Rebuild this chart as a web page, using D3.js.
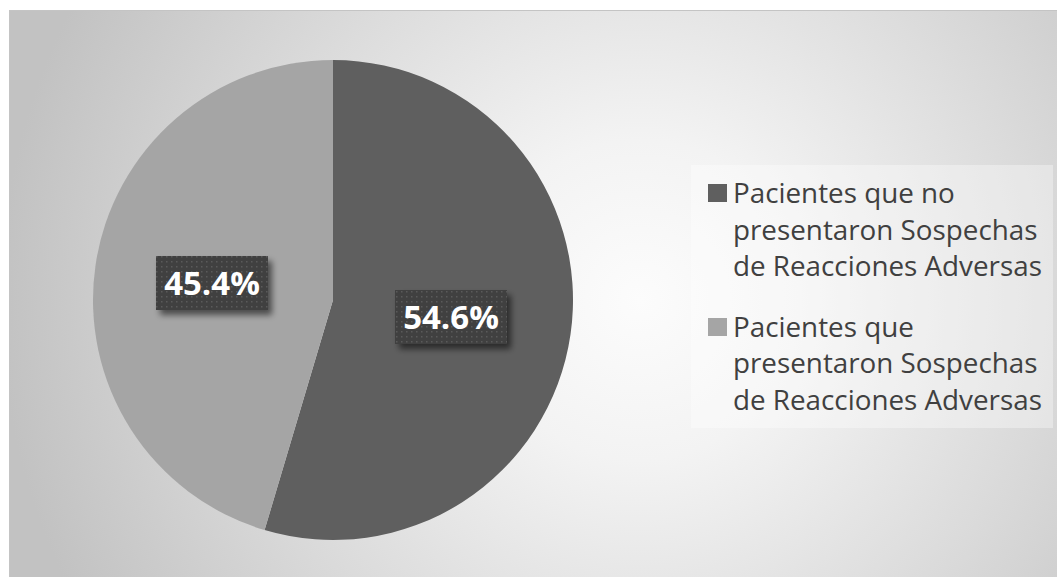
<!DOCTYPE html>
<html><head><meta charset="utf-8">
<script src="https://cdn.jsdelivr.net/npm/d3@7"></script>
<style>html,body{margin:0;padding:0;background:#fff;}</style>
</head><body>
<svg id="c" width="1057" height="577"></svg>
<script>
const categories = ["Pacientes que no presentaron Sospechas de Reacciones Adversas",
                    "Pacientes que presentaron Sospechas de Reacciones Adversas"];
const legendLines = [["Pacientes que no","presentaron Sospechas","de Reacciones Adversas"],
                     ["Pacientes que","presentaron Sospechas","de Reacciones Adversas"]];
const values = [54.6, 45.4];
const labels = ["54.6%", "45.4%"];
const colors = ["#5f5f5f", "#a5a5a5"];

const svg = d3.select("#c");
const defs = svg.append("defs");
const rg = defs.append("radialGradient").attr("id","bg").attr("gradientUnits","userSpaceOnUse")
  .attr("cx",640).attr("cy",300).attr("r",640);
rg.append("stop").attr("offset","0").attr("stop-color","#fcfcfc");
rg.append("stop").attr("offset","0.25").attr("stop-color","#f3f3f3");
rg.append("stop").attr("offset","1").attr("stop-color","#c2c2c2");
const pat = defs.append("pattern").attr("id","dots").attr("patternUnits","userSpaceOnUse")
  .attr("width",5).attr("height",5);
pat.append("rect").attr("width",5).attr("height",5).attr("fill","#404040");
pat.append("rect").attr("x",1).attr("y",1).attr("width",1.5).attr("height",1.5).attr("fill","#5a5a5a");
const f = defs.append("filter").attr("id","sh").attr("x","-20%").attr("y","-20%").attr("width","150%").attr("height","160%");
f.append("feGaussianBlur").attr("in","SourceAlpha").attr("stdDeviation",3);
f.append("feOffset").attr("dx",4).attr("dy",5).attr("result","b");
f.append("feComponentTransfer").append("feFuncA").attr("type","linear").attr("slope",0.55);
const m = f.append("feMerge"); m.append("feMergeNode"); m.append("feMergeNode").attr("in","SourceGraphic");

svg.append("rect").attr("x",9.5).attr("y",10.5).attr("width",1050).attr("height",568)
  .attr("fill","url(#bg)").attr("stroke","#c4c4c4");

const cx = 333, cy = 300, R = 240;
const pie = d3.pie().sort(null).value(d=>d)(values);
const arc = d3.arc().innerRadius(0).outerRadius(R);
const g = svg.append("g").attr("transform",`translate(${cx},${cy})`);
g.selectAll("path").data(pie).join("path").attr("d",arc).attr("fill",(d,i)=>colors[i]);

const labelPos = [[451,317],[212,283]];
labels.forEach((t,i)=>{
  const [x,y] = labelPos[i];
  const lg = svg.append("g").attr("filter","url(#sh)");
  lg.append("rect").attr("x",x-56).attr("y",y-27).attr("width",112).attr("height",54).attr("fill","url(#dots)");
  svg.append("text").attr("x",x).attr("y",y+12).attr("text-anchor","middle")
    .attr("font-family","'Open Sans',sans-serif").attr("font-weight","bold").attr("font-size",33)
    .attr("fill","#fff").text(t);
});

svg.append("rect").attr("x",691).attr("y",165).attr("width",362).attr("height",263)
  .attr("fill","#ffffff").attr("opacity",0.35);
const ly = [[193,230,266],[327,363,400]];
categories.forEach((c,i)=>{
  svg.append("rect").attr("x",708).attr("y",ly[i][0]-9).attr("width",19).attr("height",18).attr("fill",colors[i]);
  legendLines[i].forEach((ln,j)=>{
    svg.append("text").attr("x",733).attr("y",ly[i][j]+10).attr("font-family","'Open Sans',sans-serif")
      .attr("font-size",27.8).attr("fill","#404040").text(ln);
  });
});
</script>
</body></html>
